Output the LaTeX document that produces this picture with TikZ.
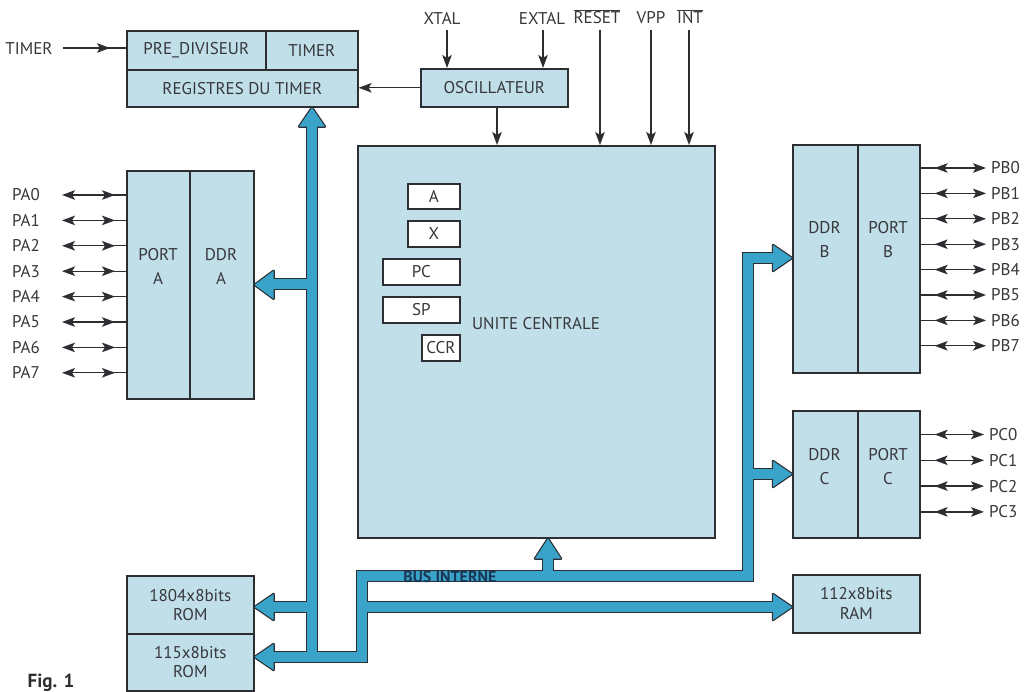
\documentclass[tikz,border=0pt]{standalone}
\usepackage{fontspec}
\setmainfont{PT Sans}
\usetikzlibrary{arrows.meta,decorations.markings}
\definecolor{boxblue}{RGB}{192,223,233}
\definecolor{busblue}{RGB}{58,163,202}
\definecolor{dark}{RGB}{45,45,50}
\definecolor{txt}{RGB}{55,55,60}
\definecolor{bustxt}{RGB}{25,55,85}
\newcommand\drawbus[1]{%
  \path[#1] (312,126) -- (312,657);
  \path[#1] (272,657) -- (362,657) -- (362,576) -- (748,576) -- (748,258) -- (773,258);
  \path[#1] (312,284) -- (272,284);
  \path[#1] (312,607) -- (272,607);
  \path[#1] (362,607) -- (773,607);
  \path[#1] (548,576) -- (548,557);
  \path[#1] (748,474) -- (773,474);
}
\newcommand\drawheads[1]{%
  \path[#1] (regtimer.south -| 312,0) -- ++(13,19) -- ++(-26,0) -- cycle;
  \path[#1] (ddra.east) -- ++(19,-14) -- ++(0,28) -- cycle;
  \path[#1] (rom1.east |- 0,607) -- ++(19,-13) -- ++(0,26) -- cycle;
  \path[#1] (rom2.east |- 0,657) -- ++(19,-13) -- ++(0,26) -- cycle;
  \path[#1] (cpu.south -| 548,0) -- ++(13,20) -- ++(-26,0) -- cycle;
  \path[#1] (ddrb.west |- 0,258) -- ++(-19,-13) -- ++(0,26) -- cycle;
  \path[#1] (ddrc.west |- 0,474) -- ++(-19,-13) -- ++(0,26) -- cycle;
  \path[#1] (ram.west |- 0,607) -- ++(-19,-13) -- ++(0,26) -- cycle;
}
\begin{document}
\begin{tikzpicture}[x=1pt,y=-1pt,
  >={Stealth[length=13pt,width=9.5pt,inset=3pt]},
  box/.style={draw=dark, fill=boxblue, line width=1.6pt, inner sep=0pt, anchor=north west,
    align=center, text=txt, font=\fontsize{17}{19}\selectfont},
  regbox/.style={box, fill=white, line width=1.8pt},
  lbl/.style={text=txt, inner sep=0pt, align=center, font=\fontsize{17}{24}\selectfont},
  pinlbl/.style={text=txt, inner sep=0pt, font=\fontsize{17}{18}\selectfont},
  sig/.style={draw=dark, line width=1.3pt, ->},
  pinA/.style={draw=dark, line width=1.3pt, <-,
    decoration={markings, mark=at position -11pt with {\arrow{>}}}, postaction={decorate}},
  pinB/.style={draw=dark, line width=1.3pt, ->,
    decoration={markings, mark=at position 14pt with {\arrowreversed{>}}}, postaction={decorate}},
  tin/.style={draw=dark, line width=1.3pt,
    decoration={markings, mark=at position -16pt with {\arrow{>}}}, postaction={decorate}}
]
\useasboundingbox (0,0) rectangle (1024,692);
\clip (0,0) rectangle (1024,692);
\fill[white] (0,0) rectangle (1024,692);

% timer block
\node[box, minimum width=139pt, minimum height=39pt] (prediv) at (126,30) {PRE\_DIVISEUR};
\node[box, minimum width=92pt, minimum height=39pt] (timerreg) at (265,30) {TIMER};
\node[box, minimum width=231pt, minimum height=37pt] (regtimer) at (126,69) {REGISTRES DU TIMER};
\node[box, minimum width=147pt, minimum height=38pt] (osc) at (420,68) {OSCILLATEUR};

% central unit
\node[box, minimum width=357pt, minimum height=392pt] (cpu) at (357,145) {};
\node[lbl] (cpulbl) at (536,324) {UNITE CENTRALE};
\node[regbox, minimum width=52pt, minimum height=25pt] (rega) at (407,183) {A};
\node[regbox, minimum width=52pt, minimum height=26pt] (regx) at (407,220) {X};
\node[regbox, minimum width=77pt, minimum height=26pt] (regpc) at (382,258) {PC};
\node[regbox, minimum width=77pt, minimum height=26pt] (regsp) at (382,296) {SP};
\node[regbox, minimum width=38pt, minimum height=26pt] (regccr) at (421,334) {CCR};

% port A
\node[box, minimum width=63pt, minimum height=228pt] (porta) at (126,170) {};
\node[box, minimum width=64pt, minimum height=228pt] (ddra) at (189,170) {};
\node[lbl] (portalbl) at (158,266) {PORT\\A};
\node[lbl] (ddralbl) at (221,266) {DDR\\A};

% port B
\node[box, minimum width=65pt, minimum height=228pt] (ddrb) at (792,144) {};
\node[box, minimum width=62pt, minimum height=228pt] (portb) at (857,144) {};
\node[lbl] (ddrblbl) at (824.5,240) {DDR\\B};
\node[lbl] (portblbl) at (888,240) {PORT\\B};

% port C
\node[box, minimum width=65pt, minimum height=127pt] (ddrc) at (792,410) {};
\node[box, minimum width=62pt, minimum height=127pt] (portc) at (857,410) {};
\node[lbl] (ddrclbl) at (824.5,467) {DDR\\C};
\node[lbl] (portclbl) at (888,467) {PORT\\C};

% memories
\node[box, minimum width=127pt, minimum height=58pt, font=\fontsize{17}{20}\selectfont] (ram) at (792,574) {112x8bits\\RAM};
\node[box, minimum width=127pt, minimum height=58pt] (rom1) at (126,575) {1804x8bits\\ROM};
\node[box, minimum width=127pt, minimum height=57pt] (rom2) at (126,633) {115x8bits\\ROM};

% timer input
\node[pinlbl] (timerin) at (29,48) {TIMER};
\coordinate (timerstart) at (63,48);
\draw[tin] (timerstart) -- (timerstart -| prediv.west);

% top signals
\node[pinlbl] (xtal) at (442,18) {XTAL};
\node[pinlbl] (extal) at (542,18) {EXTAL};
\node[pinlbl] (reset) at (597,17) {$\overline{\mbox{RESET}}$};
\node[pinlbl] (vpp) at (651,18) {VPP};
\node[pinlbl] (int) at (690,17) {$\overline{\mbox{INT}}$};
\coordinate (xtalin) at (447,30);
\coordinate (extalin) at (543,30);
\coordinate (resetin) at (600,30);
\coordinate (vppin) at (651,30);
\coordinate (intin) at (689,30);
\draw[sig] (xtalin) -- (xtalin |- osc.north);
\draw[sig] (extalin) -- (extalin |- osc.north);
\draw[sig] (resetin) -- (resetin |- cpu.north);
\draw[sig] (vppin) -- (vppin |- cpu.north);
\draw[sig] (intin) -- (intin |- cpu.north);
\coordinate (oscout) at (497,106);
\draw[sig] (oscout |- osc.south) -- (oscout |- cpu.north);
\draw[sig] (osc.west) -- (osc.west -| regtimer.east);

% port A pins
\foreach \i in {0,...,7} {
  \pgfmathsetmacro\yy{195+25.4*\i}
  \node[pinlbl, anchor=west] (pa\i) at (12,\yy) {PA\i};
  \coordinate (pas\i) at (62,\yy);
  \draw[pinA] (pas\i) -- (pas\i -| porta.west);
}
% port B pins
\foreach \i in {0,...,7} {
  \pgfmathsetmacro\yy{168+25.4*\i}
  \node[pinlbl, anchor=west] (pb\i) at (991,\yy) {PB\i};
  \coordinate (pbe\i) at (986,\yy);
  \draw[pinB] (pbe\i -| portb.east) -- (pbe\i);
}
% port C pins
\foreach \i in {0,...,3} {
  \pgfmathsetmacro\yy{434.5+25.8*\i}
  \node[pinlbl, anchor=west] (pc\i) at (989,\yy) {PC\i};
  \coordinate (pce\i) at (984,\yy);
  \draw[pinB] (pce\i -| portc.east) -- (pce\i);
}

% internal bus
\drawbus{draw=dark, line width=12.6pt}
\drawheads{draw=dark, fill=dark, line width=2.4pt, line join=round}
\drawbus{draw=busblue, line width=10pt}
\drawheads{fill=busblue}
\node[text=bustxt, inner sep=0pt, font=\bfseries\fontsize{16}{17}\selectfont] (buslbl) at (450,577) {BUS INTERNE};

% caption
\node[text=dark, inner sep=0pt, font=\bfseries\fontsize{19}{20}\selectfont] (fig) at (51,683) {Fig. 1};
\end{tikzpicture}
\end{document}
